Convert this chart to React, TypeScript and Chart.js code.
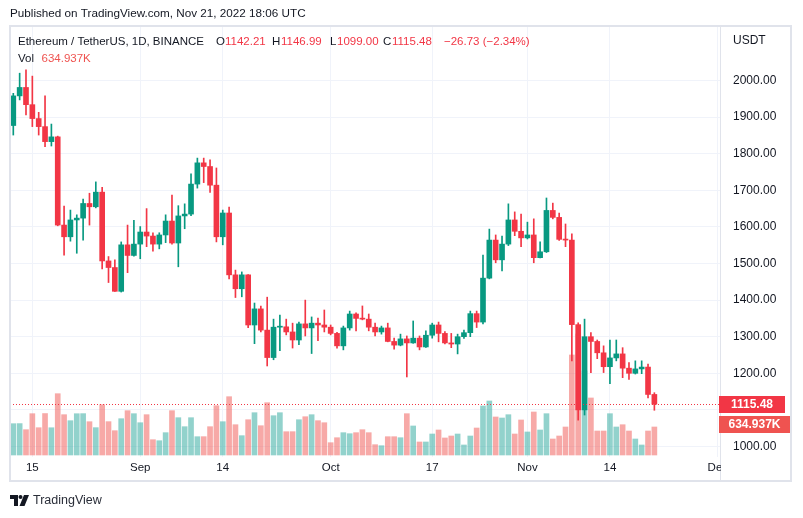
import React, { useEffect, useRef } from 'react';
import { Chart, registerables } from 'chart.js';

Chart.register(...registerables);

// Daily candles, Aug 12 2022 (index 0) .. Nov 21 2022 (index 101)
const opens = [
  1877, 1958, 1981, 1934, 1896, 1874, 1833, 1846, 1605, 1573,
  1619, 1624, 1664, 1655, 1695, 1507, 1489, 1424, 1551, 1522,
  1553, 1586, 1575, 1553, 1578, 1616, 1556, 1630, 1635, 1717,
  1775, 1765, 1714, 1573, 1638, 1469, 1431, 1469, 1332, 1376,
  1318, 1243, 1326, 1327, 1313, 1291, 1335, 1324, 1337, 1332,
  1326, 1309, 1275, 1324, 1362, 1350, 1348, 1326, 1313, 1324,
  1287, 1277, 1294, 1283, 1296, 1272, 1304, 1332, 1309, 1283,
  1280, 1300, 1311, 1363, 1340, 1460, 1564, 1510, 1553, 1619,
  1588, 1570, 1578, 1516, 1532, 1645, 1626, 1566, 1564, 1333,
  1100, 1300, 1287, 1256, 1218, 1242, 1253, 1214, 1200, 1212,
  1217, 1142.21,
];
const highs = [
  1965, 2020, 2029, 2012, 1913, 1958, 1881, 1848, 1657, 1646,
  1633, 1676, 1692, 1723, 1708, 1519, 1510, 1559, 1605, 1618,
  1601, 1650, 1584, 1584, 1633, 1687, 1658, 1663, 1745, 1788,
  1788, 1783, 1761, 1646, 1654, 1482, 1477, 1470, 1392, 1384,
  1408, 1348, 1359, 1348, 1337, 1340, 1400, 1354, 1351, 1373,
  1332, 1312, 1329, 1370, 1365, 1384, 1362, 1337, 1329, 1337,
  1296, 1307, 1302, 1343, 1302, 1316, 1337, 1340, 1314, 1309,
  1307, 1318, 1370, 1370, 1523, 1594, 1578, 1575, 1663, 1641,
  1635, 1613, 1622, 1559, 1679, 1665, 1638, 1608, 1581, 1338,
  1348, 1311, 1291, 1275, 1291, 1291, 1270, 1229, 1234, 1234,
  1225, 1146.99,
];
const lows = [
  1851, 1947, 1906, 1874, 1851, 1819, 1821, 1603, 1523, 1561,
  1528, 1564, 1605, 1652, 1485, 1448, 1424, 1422, 1475, 1520,
  1513, 1546, 1534, 1540, 1557, 1553, 1491, 1595, 1631, 1706,
  1721, 1694, 1559, 1551, 1458, 1407, 1409, 1325, 1281, 1313,
  1220, 1237, 1262, 1305, 1269, 1278, 1302, 1254, 1289, 1313,
  1305, 1269, 1264, 1318, 1316, 1346, 1316, 1302, 1307, 1286,
  1266, 1275, 1190, 1282, 1264, 1271, 1296, 1286, 1280, 1270,
  1253, 1295, 1300, 1325, 1335, 1458, 1502, 1480, 1549, 1576,
  1546, 1567, 1502, 1515, 1530, 1622, 1563, 1546, 1234, 1072,
  1086, 1202, 1240, 1202, 1172, 1234, 1188, 1183, 1198, 1199,
  1133, 1099,
];
const closes = [
  1958, 1981, 1934, 1896, 1874, 1833, 1846, 1605, 1573, 1619,
  1624, 1664, 1655, 1695, 1507, 1489, 1424, 1551, 1522, 1553,
  1586, 1575, 1553, 1578, 1616, 1556, 1630, 1635, 1717, 1775,
  1765, 1714, 1573, 1638, 1469, 1431, 1469, 1332, 1376, 1318,
  1243, 1326, 1327, 1313, 1291, 1335, 1324, 1337, 1332, 1326,
  1309, 1275, 1324, 1362, 1350, 1348, 1326, 1313, 1324, 1287,
  1277, 1294, 1283, 1296, 1272, 1304, 1332, 1309, 1283, 1280,
  1300, 1311, 1363, 1340, 1460, 1564, 1510, 1553, 1619, 1588,
  1570, 1578, 1516, 1532, 1645, 1626, 1566, 1564, 1333, 1100,
  1300, 1287, 1256, 1218, 1242, 1253, 1214, 1200, 1212, 1217,
  1142.21, 1115.48,
];
// Volume in thousands of ETH
const volumes = [
  710, 712, 574, 937, 619, 940, 618, 1390, 914, 778,
  936, 938, 755, 620, 1141, 756, 551, 823, 1005, 937,
  732, 914, 347, 324, 506, 1005, 846, 642, 846, 415,
  416, 642, 1118, 755, 1322, 687, 438, 800, 959, 664,
  1186, 891, 959, 528, 529, 800, 868, 914, 778, 732,
  279, 392, 506, 483, 506, 574, 506, 234, 211, 415,
  415, 392, 937, 658, 295, 295, 476, 567, 386, 431,
  476, 227, 431, 612, 1111, 1225, 862, 839, 914, 476,
  794, 522, 975, 567, 937, 363, 431, 635, 2268, 2744,
  1905, 1293, 544, 544, 937, 635, 687, 544, 363, 227,
  544, 634.937,
];
const priceTicks = [1000, 1100, 1200, 1300, 1400, 1500, 1600, 1700, 1800, 1900, 2000];
const timeTickIndex = [3, 20, 33, 50, 66, 81, 94, 111];
const timeTickLabels = ['15', 'Sep', '14', 'Oct', '17', 'Nov', '14', 'Dec'];

const UP = '#089981';
const DOWN = '#F23645';
const VOL_UP = 'rgba(38,166,154,0.5)';
const VOL_DOWN = 'rgba(239,83,80,0.5)';
const TEXT = '#131722';
const GRID = '#f0f3fa';
const FONT = "'Liberation Sans', Arial, sans-serif";

const overlay = {
  id: 'tvOverlay',
  afterDraw(chart: any) {
    const ctx = chart.ctx as CanvasRenderingContext2D;
    const area = chart.chartArea;
    const xs = chart.scales.x;
    const ys = chart.scales.y;
    const yv = chart.scales.yVol;
    const last = closes.length - 1;
    const lastClose = closes[last];
    const lastVol = volumes[last];

    ctx.save();
    // current price dotted line
    const py = Math.round(ys.getPixelForValue(lastClose)) + 0.5;
    ctx.strokeStyle = DOWN;
    ctx.lineWidth = 1;
    ctx.setLineDash([1, 2]);
    ctx.beginPath();
    ctx.moveTo(area.left, py);
    ctx.lineTo(area.right, py);
    ctx.stroke();
    ctx.setLineDash([]);

    // price axis separator and frame
    ctx.strokeStyle = '#e0e3eb';
    ctx.lineWidth = 1;
    ctx.beginPath();
    ctx.moveTo(area.right + 0.5, 26);
    ctx.lineTo(area.right + 0.5, 481);
    ctx.stroke();
    ctx.lineWidth = 2;
    ctx.strokeRect(10, 26, 781, 455);

    // price labels
    ctx.fillStyle = TEXT;
    ctx.font = `12px ${FONT}`;
    ctx.textAlign = 'left';
    ctx.textBaseline = 'middle';
    ctx.fillText('USDT', 733, 41);
    for (const v of priceTicks) {
      ctx.fillText(v.toFixed(2), 733, ys.getPixelForValue(v));
    }

    // time labels (clipped to pane width)
    ctx.save();
    ctx.beginPath();
    ctx.rect(area.left, area.bottom, area.right - area.left + 1, 24);
    ctx.clip();
    ctx.textAlign = 'center';
    ctx.font = `11.5px ${FONT}`;
    timeTickIndex.forEach((idx, k) => {
      ctx.fillText(timeTickLabels[k], xs.getPixelForValue(idx), 468);
    });
    ctx.restore();

    // last price box
    ctx.fillStyle = DOWN;
    ctx.fillRect(719, py - 8.5, 66, 17);
    ctx.fillStyle = '#ffffff';
    ctx.font = `bold 12px ${FONT}`;
    ctx.textAlign = 'center';
    ctx.fillText(lastClose.toFixed(2), 752, py + 0.5);

    // last volume box
    const vy = yv.getPixelForValue(lastVol) - 2.5;
    ctx.fillStyle = '#ef5350';
    ctx.fillRect(719, vy - 8.5, 71, 17);
    ctx.fillStyle = '#ffffff';
    ctx.fillText(lastVol.toFixed(3) + 'K', 754.5, vy + 0.5);

    // header
    ctx.textAlign = 'left';
    ctx.fillStyle = TEXT;
    ctx.font = `11.7px ${FONT}`;
    ctx.fillText('Published on TradingView.com, Nov 21, 2022 18:06 UTC', 10, 14);

    // legend
    ctx.font = `11.5px ${FONT}`;
    const seg = (t: string, x: number, y: number, c: string) => {
      ctx.fillStyle = c;
      ctx.fillText(t, x, y);
    };
    const change = lastClose - opens[last];
    const pct = (change / opens[last]) * 100;
    const fmt = (n: number) => (n < 0 ? '\u2212' : '+') + Math.abs(n).toFixed(2);
    seg('Ethereum / TetherUS, 1D, BINANCE', 18, 42, TEXT);
    seg('O', 216, 42, TEXT);
    seg(opens[last].toFixed(2), 225, 42, DOWN);
    seg('H', 272, 42, TEXT);
    seg(highs[last].toFixed(2), 281, 42, DOWN);
    seg('L', 330, 42, TEXT);
    seg(lows[last].toFixed(2), 337, 42, DOWN);
    seg('C', 383, 42, TEXT);
    seg(lastClose.toFixed(2), 392, 42, DOWN);
    seg(`${fmt(change)} (${fmt(pct)}%)`, 444, 42, DOWN);
    seg('Vol', 18, 59, TEXT);
    seg(lastVol.toFixed(3) + 'K', 41.5, 59, '#ef5350');

    // TradingView logo
    ctx.fillStyle = '#131722';
    ctx.fillRect(10, 495, 8, 4);
    ctx.fillRect(14, 495, 4, 11);
    ctx.beginPath();
    ctx.arc(20.5, 497, 2, 0, Math.PI * 2);
    ctx.fill();
    ctx.beginPath();
    ctx.moveTo(24, 495);
    ctx.lineTo(29, 495);
    ctx.lineTo(24.5, 506);
    ctx.lineTo(19.5, 506);
    ctx.closePath();
    ctx.fill();
    ctx.fillStyle = '#2a2e39';
    ctx.font = `12.5px ${FONT}`;
    ctx.fillText('TradingView', 33, 501);
    ctx.restore();
  },
};

export default function App() {
  const ref = useRef<HTMLCanvasElement | null>(null);
  useEffect(() => {
    if (!ref.current) return;
    const candleColors = opens.map((o, i) => (closes[i] >= o ? UP : DOWN));
    const volColors = opens.map((o, i) => (closes[i] >= o ? VOL_UP : VOL_DOWN));
    const chart = new Chart(ref.current, {
      type: 'bar',
      data: {
        datasets: [
          {
            label: 'Volume',
            data: volumes.map((v, i) => ({ x: i, y: v })) as any,
            yAxisID: 'yVol',
            backgroundColor: volColors,
            barThickness: 5,
            grouped: false,
            order: 3,
          } as any,
          {
            label: 'Wick',
            data: lows.map((l, i) => ({ x: i, y: [l, highs[i]] })) as any,
            yAxisID: 'y',
            backgroundColor: candleColors,
            barThickness: 1,
            grouped: false,
            order: 2,
          } as any,
          {
            label: 'Body',
            data: opens.map((o, i) => ({ x: i, y: [o, closes[i]] })) as any,
            yAxisID: 'y',
            backgroundColor: candleColors,
            barThickness: 5,
            minBarLength: 1,
            grouped: false,
            order: 1,
          } as any,
        ],
      },
      options: {
        responsive: false,
        animation: false,
        devicePixelRatio: 1,
        layout: { padding: { left: 10, top: 27, right: 83, bottom: 61 } },
        plugins: { legend: { display: false }, tooltip: { enabled: false } },
        scales: {
          x: {
            type: 'linear',
            min: -0.52,
            max: 111.34,
            offset: false,
            afterBuildTicks: (s: any) => {
              s.ticks = timeTickIndex.map((v) => ({ value: v }));
            },
            afterFit: (s: any) => {
              s.height = 0;
            },
            ticks: { display: false },
            grid: { color: GRID, drawTicks: false, offset: false },
            border: { display: false },
          },
          y: {
            position: 'right',
            min: 971.3,
            max: 2146.2,
            afterBuildTicks: (s: any) => {
              s.ticks = priceTicks.map((v) => ({ value: v }));
            },
            afterFit: (s: any) => {
              s.width = 0;
            },
            ticks: { display: false },
            grid: { color: GRID, drawTicks: false },
            border: { display: false },
          },
          yVol: {
            position: 'left',
            display: false,
            min: -45.4,
            max: 9705,
          },
        },
      } as any,
      plugins: [overlay],
    });
    return () => chart.destroy();
  }, []);
  return (
    <div style={{ position: 'absolute', left: 0, top: 0, width: 803, height: 518, background: '#ffffff' }}>
      <canvas ref={ref} width={803} height={518} style={{ width: 803, height: 518, display: 'block' }} />
    </div>
  );
}
